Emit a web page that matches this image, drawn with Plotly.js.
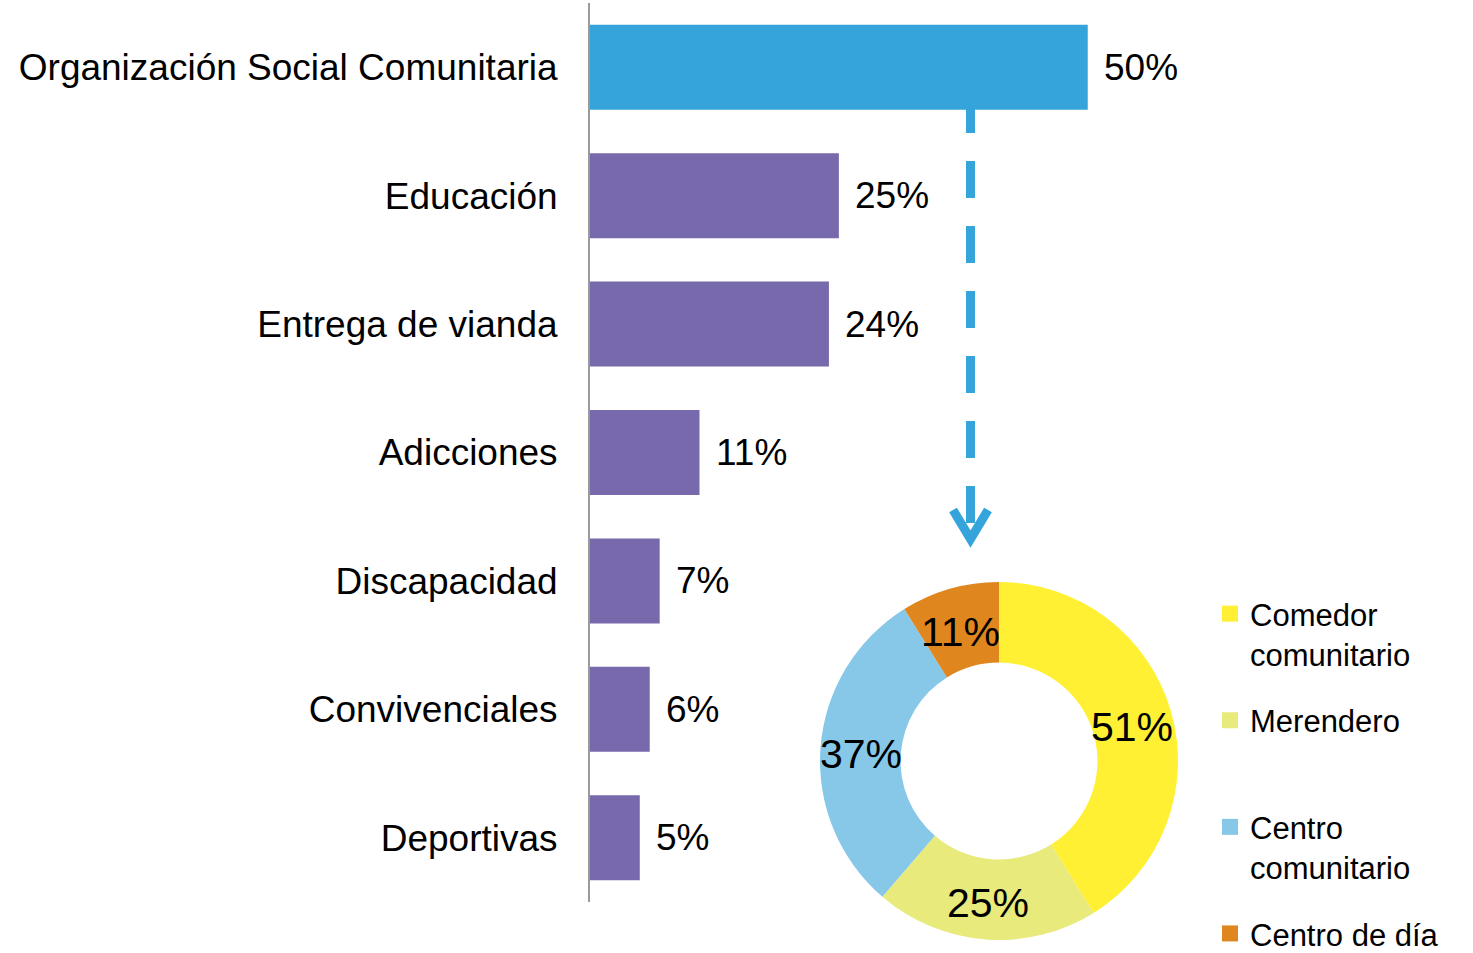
<!DOCTYPE html>
<html>
<head>
<meta charset="utf-8">
<script src="https://cdn.plot.ly/plotly-3.0.1.min.js"></script>
<style>html,body{margin:0;padding:0;background:#fff;}#chart{width:1473px;height:953px;}</style>
</head>
<body>
<div id="chart"></div>
<script>
// Bar chart data
const barCategories = ["Organización Social Comunitaria", "Educación", "Entrega de vianda", "Adicciones", "Discapacidad", "Convivenciales", "Deportivas"];
const barValues = [50, 25, 24, 11, 7, 6, 5];
const barColors = ["#35A4DB", "#7868AC", "#7868AC", "#7868AC", "#7868AC", "#7868AC", "#7868AC"];

// Donut data (breakdown of Organización Social Comunitaria)
const pieLabels = ["Comedor<br>comunitario", "Merendero<br>\u00a0", "Centro<br>comunitario", "Centro de día<br>\u00a0"];
const pieValues = [51, 25, 37, 11];
const pieColors = ["#FFF033", "#E8EA7B", "#87C8E9", "#E0861E"];

const FONT = "Liberation Sans, Arial, Helvetica, sans-serif";
const W = 1473, H = 953;
const mL = 590, mR = 0, mT = 3, mB = 13;
const pw = W - mL - mR, ph = H - mT - mB;
const px = x => (x - mL) / pw;
const py = y => (H - mB - y) / ph;

// donut geometry (pixels)
const pieBox = {x0: 820, x1: 1178, y0: 582, y1: 940};
const hole = 0.55;

const barTrace = {
  type: "bar",
  orientation: "h",
  y: barCategories,
  x: barValues,
  marker: {color: barColors, line: {width: 0}},
  hoverinfo: "skip",
  showlegend: false,
  xaxis: "x",
  yaxis: "y"
};

const pieTrace = {
  type: "pie",
  labels: pieLabels,
  values: pieValues,
  marker: {colors: pieColors, line: {width: 0}},
  hole: hole,
  sort: false,
  direction: "clockwise",
  rotation: 0,
  textinfo: "none",
  textposition: "none",
  domain: {x: [px(pieBox.x0), px(pieBox.x1)], y: [py(pieBox.y1), py(pieBox.y0)]},
  hoverinfo: "skip",
  showlegend: false
};

// legend entries for the donut categories
const legendTraces = pieLabels.map((lab, i) => ({
  type: "scatter", mode: "markers",
  x: [null], y: [null],
  name: lab,
  legendgroup: "g" + i,
  marker: {symbol: "square", size: 17, color: pieColors[i]},
  hoverinfo: "skip",
  showlegend: true
}));

const barAnnotations = barCategories.map((c, i) => ({
  x: barValues[i], y: c, xref: "x", yref: "y",
  text: barValues[i] + "%", showarrow: false,
  xanchor: "left", yanchor: "middle", xshift: 14,
  font: {family: FONT, size: 37, color: "#000"}
}));

// donut value labels at mid-ring along each slice's bisector (clockwise from 12 o'clock)
const total = pieValues.reduce((a, b) => a + b, 0);
const cx = (pieBox.x0 + pieBox.x1) / 2, cy = (pieBox.y0 + pieBox.y1) / 2;
const R = (pieBox.x1 - pieBox.x0) / 2;
const rMid = R * (1 + hole) / 2;
let cum = 0;
const pieAnnotations = pieValues.map((v, i) => {
  const a = (cum + v / 2) / total * 2 * Math.PI;
  cum += v;
  const xx = cx + rMid * Math.sin(a), yy = cy - rMid * Math.cos(a) + 4;
  return {
    x: px(xx), y: py(yy), xref: "paper", yref: "paper",
    text: v + "%", showarrow: false, xanchor: "center", yanchor: "middle",
    font: {family: FONT, size: 41, color: "#000"}
  };
});

const arrowColor = "#35A4DB";
const shapes = [
  {type: "line", xref: "paper", yref: "paper", layer: "below",
   x0: px(970.5), x1: px(970.5), y0: py(96), y1: py(534),
   line: {color: arrowColor, width: 9, dash: "37px,28px"}},
  {type: "path", xref: "paper", yref: "paper",
   path: `M ${px(953)} ${py(510)} L ${px(970.5)} ${py(539)} L ${px(988)} ${py(510)}`,
   line: {color: arrowColor, width: 9}}
];

const layout = {
  width: W, height: H,
  margin: {l: mL, r: mR, t: mT, b: mB, pad: 0, autoexpand: false},
  paper_bgcolor: "#fff", plot_bgcolor: "rgba(0,0,0,0)",
  font: {family: FONT, color: "#000"},
  bargap: 0.338,
  xaxis: {range: [0, 88.7], visible: false, fixedrange: true},
  yaxis: {
    domain: [py(902), 1],
    autorange: "reversed",
    showline: true, linecolor: "#9A9A9A", linewidth: 2,
    showgrid: false, zeroline: false, ticks: "",
    ticklabelstandoff: 23,
    tickfont: {family: FONT, size: 37, color: "#000"},
    automargin: false, fixedrange: true
  },
  showlegend: true,
  legend: {
    x: px(1210), xanchor: "left",
    y: py(587), yanchor: "top",
    valign: "top",
    font: {family: FONT, size: 31, color: "#000"},
    bgcolor: "rgba(0,0,0,0)", borderwidth: 0,
    traceorder: "grouped", tracegroupgap: 23
  },
  annotations: barAnnotations.concat(pieAnnotations),
  shapes: shapes
};

Plotly.newPlot("chart", [barTrace, pieTrace].concat(legendTraces), layout, {displayModeBar: false, staticPlot: true});
</script>
</body>
</html>
